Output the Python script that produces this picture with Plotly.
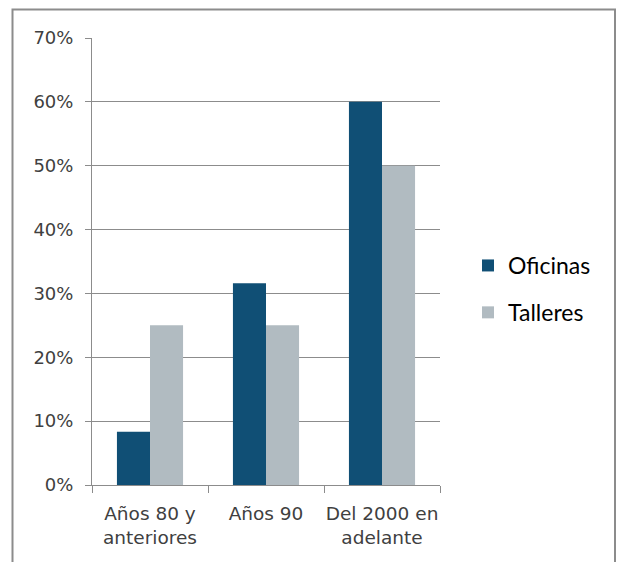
import plotly.graph_objects as go

categories = ["Años 80 y<br>anteriores", "Años 90", "Del 2000 en<br>adelante"]
oficinas = [0.0833, 0.316, 0.60]
talleres = [0.25, 0.25, 0.50]
tick_vals = [0, 0.1, 0.2, 0.3, 0.4, 0.5, 0.6, 0.7]
tick_text = ["0%", "10%", "20%", "30%", "40%", "50%", "60%", "70%"]

fig = go.Figure()
fig.add_trace(go.Bar(x=categories, y=oficinas, name="Oficinas",
                     marker=dict(color="#104F75", line=dict(width=0)),
                     legendgroup="a"))
fig.add_trace(go.Bar(x=categories, y=talleres, name="Talleres",
                     marker=dict(color="#B1BBC1", line=dict(width=0)),
                     legendgroup="b"))

W, H = 617, 562
L, R, T, B = 92, 440, 38, 485
pw, ph = R - L, B - T

fig.update_layout(
    width=W, height=H, autosize=False,
    margin=dict(l=L, r=W - R, t=T, b=H - B, autoexpand=False),
    paper_bgcolor="white", plot_bgcolor="white",
    barmode="group", bargap=0.43, bargroupgap=0,
    font=dict(family="DejaVu Sans", color="#404040", size=17),
    showlegend=True,
    legend=dict(x=(468 - L) / pw, xanchor="left", y=(B - 289) / ph, yanchor="middle",
                font=dict(family="Lato", size=23, color="#000000"),
                tracegroupgap=14, itemwidth=30, bgcolor="rgba(0,0,0,0)"),
    xaxis=dict(showline=True, linecolor="#8C8C8C", linewidth=1,
               ticks="outside", ticklen=7, tickcolor="#8C8C8C",
               tickson="boundaries", showgrid=False, ticklabelstandoff=12,
               tickangle=0, automargin=False,
               tickfont=dict(family="DejaVu Sans", size=18.5, color="#404040")),
    yaxis=dict(range=[0, 0.7], tickvals=tick_vals, ticktext=tick_text,
               showline=True, linecolor="#8C8C8C", linewidth=1,
               ticks="outside", ticklen=6, tickcolor="#8C8C8C",
               showgrid=True, gridcolor="#8C8C8C", gridwidth=1,
               zeroline=False, ticklabelstandoff=8, automargin=False,
               tickfont=dict(family="DejaVu Sans", size=18, color="#404040")),
    shapes=[dict(type="rect", xref="paper", yref="paper",
                 x0=(12.5 - L) / pw, x1=(615 - L) / pw,
                 y0=(B - 575) / ph, y1=(B - 9.5) / ph,
                 line=dict(color="#8C8C8C", width=2), layer="below")],
)

fig.write_html("out.html", config={"displayModeBar": False},
               post_script="document.body.style.margin='0';document.body.style.overflow='hidden';")
